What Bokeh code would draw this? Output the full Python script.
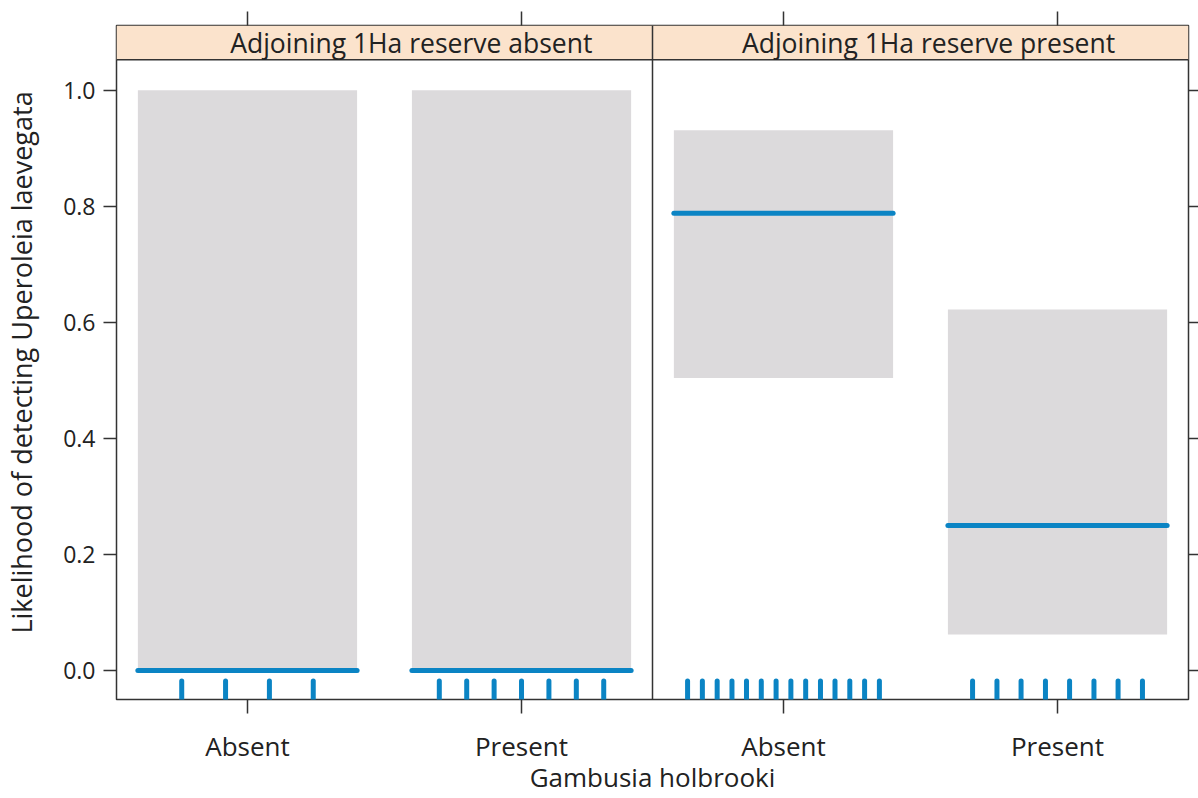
from bokeh.plotting import figure
from bokeh.models import Range1d, LinearAxis, FixedTicker, Span, ColumnDataSource, NumeralTickFormatter
from bokeh.core.properties import value
from bokeh.embed import file_html
from bokeh.resources import INLINE

# ---- data ----
panels = ["Adjoining 1Ha reserve absent", "Adjoining 1Ha reserve present"]
gambusia_levels = ["Absent", "Present"]
fit = [0.0, 0.0, 0.788, 0.250]
lower = [0.0, 0.0, 0.504, 0.062]
upper = [1.0, 1.0, 0.931, 0.622]
rug_left_absent = [-0.24, -0.08, 0.08, 0.24]
rug_left_present = [-0.30, -0.20, -0.10, 0.0, 0.10, 0.20, 0.30]
rug_right_absent = [-0.35, -0.296, -0.242, -0.188, -0.135, -0.081, -0.027,
                    0.027, 0.081, 0.135, 0.188, 0.242, 0.296, 0.35]
rug_right_present = [-0.31, -0.221, -0.133, -0.044, 0.044, 0.133, 0.221, 0.31]
y_ticks = [0.0, 0.2, 0.4, 0.6, 0.8, 1.0]
y_label = "Likelihood of detecting Uperoleia laevegata"
x_label = "Gambusia holbrooki"

FONT = "Open Sans"
BLUE = "#0b84c4"
GRAY = "#dcdadc"
STRIP = "#fbe3cc"
DARK = "#333333"
TXT = "#222222"

# shared x scale: each panel spans PW units, levels at 1 and 2 inside a panel
PAD = 0.478
PW = 1 + 2 * PAD
x_start = 1 - PAD
x_end = x_start + 2 * PW
divider = x_start + PW

pos = []
labels = {}
for i, _ in enumerate(panels):
    for j, lev in enumerate(gambusia_levels):
        x = round(i * PW + j + 1, 6)
        pos.append(x)
        labels[x] = lev

half = 0.4
src = ColumnDataSource(dict(
    left=[x - half for x in pos], right=[x + half for x in pos],
    x0=[x - half for x in pos], x1=[x + half for x in pos],
    fit=fit, lower=lower, upper=upper))

rug_x, rug_y0, rug_y1 = [], [], []
for x, offs in zip(pos, [rug_left_absent, rug_left_present, rug_right_absent, rug_right_present]):
    for o in offs:
        rug_x.append(x + o)
        rug_y0.append(-0.018)
        rug_y1.append(-0.06)
rug = ColumnDataSource(dict(x=rug_x, y0=rug_y0, y1=rug_y1))

y_lo, panel_top, strip_top = -0.05, 1.0524, 1.1115

p = figure(width=1198, height=798, output_backend="svg", toolbar_location=None,
           x_range=Range1d(x_start, x_end), y_range=Range1d(y_lo, strip_top),
           min_border_left=116, min_border_right=10, min_border_top=25, min_border_bottom=99)
p.xgrid.visible = False
p.ygrid.visible = False
p.outline_line_color = DARK
p.outline_line_width = 1.5
p.background_fill_color = "white"
p.border_fill_color = "white"

# strips
p.quad(left=[x_start, divider], right=[divider, x_end], bottom=[panel_top, panel_top],
       top=[strip_top, strip_top], fill_color=STRIP, line_color=None)
p.segment(x0=[x_start], x1=[x_end], y0=[panel_top], y1=[panel_top], line_color=DARK, line_width=1.5)
p.text(x=[x_start + 0.55 * PW, divider + 0.515 * PW], y=[(panel_top + strip_top) / 2] * 2, text=panels,
       text_font=value(FONT), text_font_size="26.5px", text_align="center",
       text_baseline="middle", text_color=TXT)

# confidence bands and fits
p.quad(left="left", right="right", bottom="lower", top="upper", source=src,
       fill_color=GRAY, line_color=None)
p.segment(x0="x0", x1="x1", y0="fit", y1="fit", source=src, line_color=BLUE,
          line_width=5, line_cap="round")
p.segment(x0="x", x1="x", y0="y0", y1="y1", source=rug, line_color=BLUE,
          line_width=5, line_cap="round")

p.add_layout(Span(location=divider, dimension="height", line_color=DARK, line_width=1.5))

# axes
def style(ax, tick_out):
    ax.axis_line_color = None
    ax.major_tick_line_color = DARK
    ax.major_tick_line_width = 1.5
    ax.major_tick_out = tick_out
    ax.major_tick_in = 0
    ax.minor_tick_line_color = None
    ax.major_label_text_font = FONT
    ax.major_label_text_color = TXT
    ax.axis_label_text_font = FONT
    ax.axis_label_text_font_style = "normal"
    ax.axis_label_text_color = TXT

yax = p.yaxis[0]
yax.ticker = FixedTicker(ticks=y_ticks)
yax.formatter = NumeralTickFormatter(format="0.0")
style(yax, 13)
yax.major_label_text_font_size = "23px"
yax.major_label_standoff = 8
yax.axis_label = y_label
yax.axis_label_text_font_size = "27px"
yax.axis_label_standoff = 20

xax = p.xaxis[0]
xax.ticker = FixedTicker(ticks=pos)
xax.major_label_overrides = labels
style(xax, 14)
xax.major_label_text_font_size = "26px"
xax.major_label_standoff = 14
xax.axis_label = x_label
xax.axis_label_text_font_size = "26px"
xax.axis_label_standoff = -8

# tick-only axes on the right and top (labels not painted)
rax = LinearAxis(ticker=FixedTicker(ticks=y_ticks))
style(rax, 10)
rax.major_label_text_font_size = "1px"
rax.major_label_text_color = None
rax.major_label_standoff = 0
p.add_layout(rax, "right")

tax = LinearAxis(ticker=FixedTicker(ticks=pos))
style(tax, 14)
tax.major_label_text_font_size = "1px"
tax.major_label_text_color = None
tax.major_label_standoff = 0
p.add_layout(tax, "above")

open("out.html", "w").write(file_html(p, INLINE))
